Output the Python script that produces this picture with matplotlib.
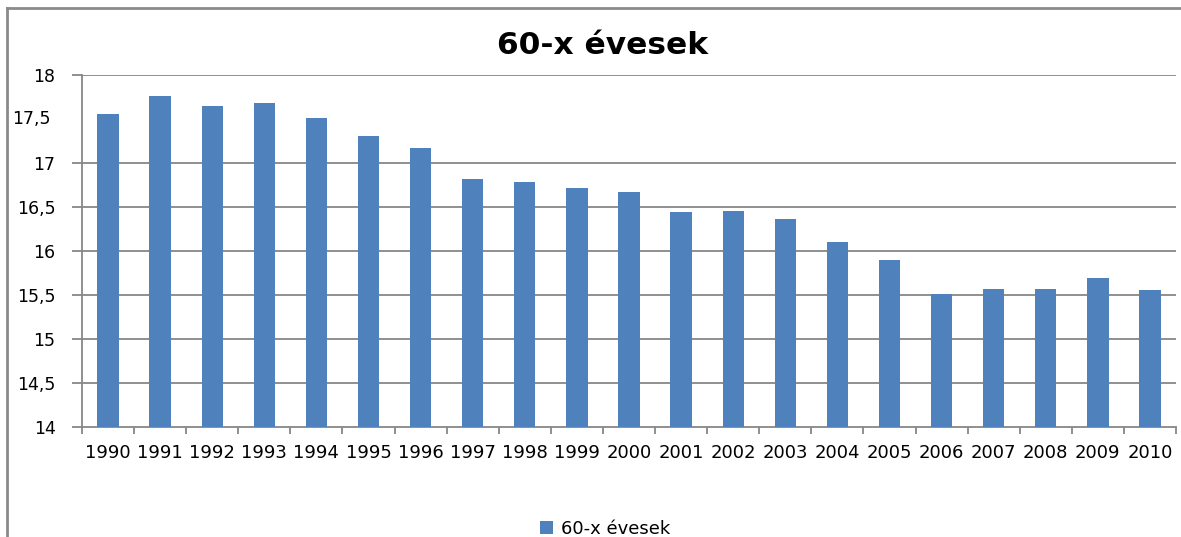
import matplotlib
matplotlib.use("Agg")
import matplotlib.pyplot as plt
from matplotlib.lines import Line2D
from matplotlib.ticker import FuncFormatter, FixedLocator
import numpy as np

years = [str(y) for y in range(1990, 2011)]
values = [17.56, 17.76, 17.65, 17.685, 17.515, 17.31, 17.17, 16.82, 16.78, 16.72,
          16.67, 16.445, 16.455, 16.36, 16.10, 15.90, 15.51, 15.57, 15.57, 15.69, 15.56]
series_name = "60-x évesek"
y_ticks = [14, 14.5, 15, 15.5, 16, 16.5, 17, 17.5, 18]

W, H = 1181, 537
fig = plt.figure(figsize=(W / 100, H / 100), dpi=100)
ax = fig.add_axes([82 / W, 1 - 427 / H, (1176 - 82) / W, (427 - 75) / H])

bar_color = "#4F81BD"
grid_color = "#878787"

x = np.arange(len(years))
ax.bar(x, values, width=0.41, color=bar_color, zorder=3, label=series_name)

ax.set_xlim(-0.5, len(years) - 0.5)
ax.set_ylim(14, 18)

# gridlines (the 17,5 line is not visible in the original)
for v in y_ticks:
    if v in (14, 17.5):
        continue
    ax.axhline(v, color=grid_color, linewidth=1.3, zorder=1)

for s in ["top", "right"]:
    ax.spines[s].set_visible(False)
for s in ["left", "bottom"]:
    ax.spines[s].set_color(grid_color)
    ax.spines[s].set_linewidth(1.3)

ax.yaxis.set_major_locator(FixedLocator([v for v in y_ticks if v != 17.5]))
ax.yaxis.set_major_formatter(FuncFormatter(lambda v, p: f"{v:g}".replace(".", ",")))
ax.tick_params(axis="y", direction="out", length=7, width=1.3, color=grid_color,
               labelsize=12.5, pad=12)
# label for 17,5 (its tick is missing in the original)
ax.annotate("17,5", xy=(0, 17.5), xycoords=("axes fraction", "data"),
            xytext=(-22.5, 0), textcoords="offset points", ha="right", va="center",
            fontsize=12.5)

ax.set_xticks(x)
ax.set_xticklabels(years, fontsize=13)
ax.set_xticks(np.arange(len(years) + 1) - 0.5, minor=True)
ax.tick_params(axis="x", which="major", length=0, pad=12)
ax.tick_params(axis="x", which="minor", direction="out", length=5, width=1.3,
               color=grid_color)

fig.text(603 / W, 1 - 46 / H, series_name, ha="center", va="center",
         fontsize=22.5, fontweight="bold")

fig.legend(loc="center", bbox_to_anchor=(605 / W, 1 - 529 / H), frameon=False,
           fontsize=13, handlelength=0.72, handleheight=0.72, handletextpad=0.45,
           borderpad=0, borderaxespad=0)

# outer chart frame (partly cut off in the original)
fig.add_artist(Line2D([7 / W, 1], [1 - 8 / H, 1 - 8 / H], color="#8a8a8a",
                      linewidth=2, transform=fig.transFigure))
fig.add_artist(Line2D([7 / W, 7 / W], [1 - 8 / H, 0], color="#8a8a8a",
                      linewidth=2, transform=fig.transFigure))

fig.savefig("out.png", dpi=100)
